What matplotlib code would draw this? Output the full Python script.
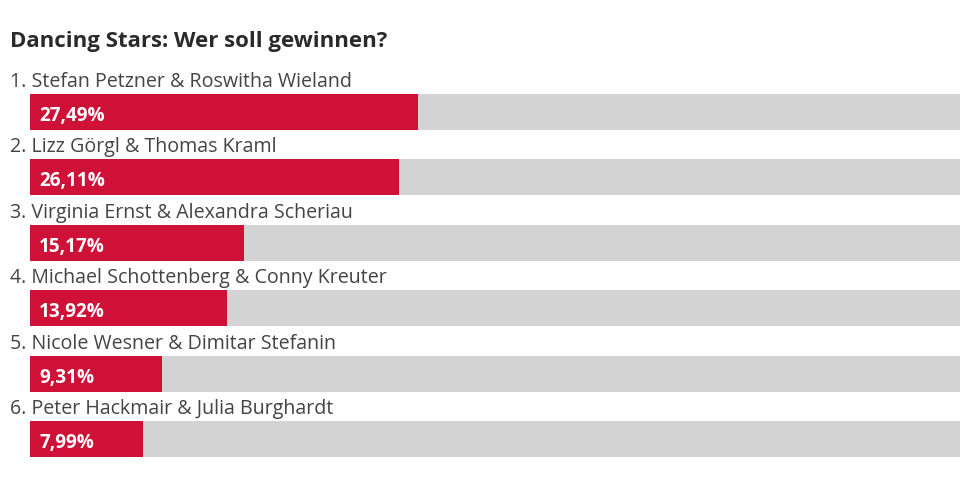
import matplotlib
matplotlib.use("Agg")
import matplotlib.pyplot as plt

plt.rcParams['font.family'] = ['Open Sans', 'DejaVu Sans']

title = "Dancing Stars: Wer soll gewinnen?"
couples = [
    "Stefan Petzner & Roswitha Wieland",
    "Lizz Görgl & Thomas Kraml",
    "Virginia Ernst & Alexandra Scheriau",
    "Michael Schottenberg & Conny Kreuter",
    "Nicole Wesner & Dimitar Stefanin",
    "Peter Hackmair & Julia Burghardt",
]
shares = [27.49, 26.11, 15.17, 13.92, 9.31, 7.99]

RED = "#cf1138"
GREY = "#d3d3d3"

# pixel layout of the original: 14.13 px per percent, bars start at x=30
px_per_pct = 14.13
x0 = 30
row_px = 65.4
first_center = 112

fig = plt.figure(figsize=(9.6, 4.8), dpi=100)
ax = fig.add_axes([0, 0, 1, 1])
ax.set_xlim(-x0 / px_per_pct, (960 - x0) / px_per_pct)
ax.set_ylim((480 - first_center) / row_px, -first_center / row_px)
ax.axis("off")

bar_h = 36 / row_px
for i, (name, val) in enumerate(zip(couples, shares)):
    ax.barh(i, 100, left=0, height=bar_h, color=GREY, linewidth=0)
    ax.barh(i, val, left=0, height=bar_h, color=RED, linewidth=0)
    ax.text(-20 / px_per_pct, i - 25 / row_px, f"{i + 1}. {name}",
            fontsize=14.1, color="#444444", va="baseline", ha="left")
    ax.text(9 / px_per_pct, i + 9 / row_px, f"{val:.2f}%".replace(".", ","),
            fontsize=13.6, fontweight="bold", color="white", va="baseline", ha="left")

fig.text(10 / 960, 1 - 47 / 480, title, fontsize=16, fontweight="bold",
         color="#2a2a2a", va="baseline", ha="left")

fig.savefig("out.png", dpi=100, facecolor="white")
